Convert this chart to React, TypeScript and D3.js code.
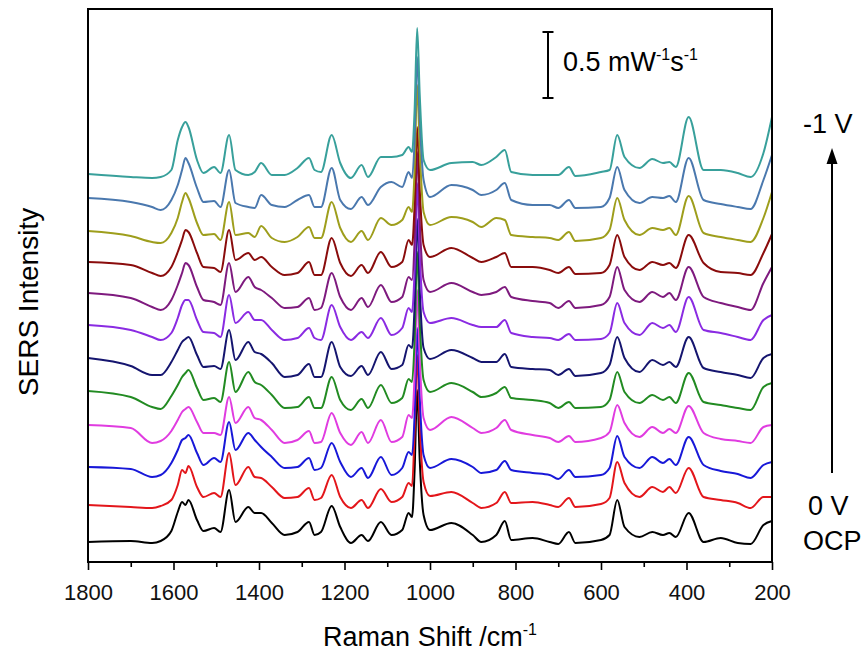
import React, { useRef, useEffect } from 'react';
import * as d3 from 'd3';

// sizes
const width = 866;
const height = 652;
const margin = { top: 9, right: 94, bottom: 90, left: 88 };

// Raman shift grid (cm-1) shared by every spectrum
const shifts = [1800, 1700, 1650, 1630, 1605, 1590, 1580, 1572, 1565, 1545,
  1530, 1505, 1490, 1470, 1455, 1425, 1410, 1395, 1370, 1340,
  1310, 1283, 1270, 1255, 1230, 1210, 1185, 1160, 1145, 1115,
  1090, 1065, 1050, 1042, 1036, 1030, 1024, 1015, 1000, 950,
  900, 880, 845, 825, 810, 760, 720, 700, 675, 660,
  600, 580, 562, 545, 510, 480, 455, 440, 425, 395,
  360, 320, 280, 250, 220, 200];

// stacked SERS intensities (a.u., 66 a.u. = 0.5 mW-1 s-1), OCP at the bottom
const specOCP = [20, 21, 19, 21, 31, 50, 60, 57, 62, 42,
  31, 34, 30, 72, 40, 55, 49, 49, 39, 27,
  30, 40, 27, 30, 56, 35, 19, 27, 21, 40,
  27, 32, 49, 45, 92, 172, 102, 47, 32, 39,
  27, 20, 27, 41, 22, 24, 20, 18, 30, 19,
  22, 27, 62, 35, 25, 30, 27, 29, 25, 49,
  20, 24, 19, 18, 37, 41];
const spec02 = [57, 55, 54, 56, 62, 77, 92, 89, 96, 75,
  65, 69, 65, 109, 77, 95, 85, 84, 75, 64,
  65, 74, 62, 64, 87, 65, 54, 62, 54, 73,
  60, 65, 79, 76, 130, 207, 137, 80, 66, 70,
  59, 54, 59, 70, 59, 60, 57, 55, 64, 55,
  58, 64, 100, 79, 65, 75, 70, 75, 69, 94,
  65, 62, 59, 54, 65, 65];
const spec03 = [95, 93, 85, 87, 99, 112, 122, 124, 127, 109,
  97, 104, 100, 140, 112, 129, 122, 115, 105, 94,
  95, 104, 92, 94, 119, 100, 85, 94, 84, 105,
  87, 94, 110, 107, 147, 234, 164, 107, 94, 103,
  95, 89, 92, 101, 92, 89, 87, 83, 92, 85,
  87, 94, 126, 105, 94, 105, 99, 103, 97, 125,
  97, 91, 88, 84, 97, 100];
const spec04 = [137, 134, 119, 121, 131, 142, 150, 153, 155, 140,
  129, 129, 127, 165, 139, 155, 144, 142, 132, 119,
  122, 131, 119, 120, 149, 129, 117, 130, 119, 142,
  120, 125, 147, 144, 187, 272, 202, 144, 132, 145,
  134, 129, 134, 142, 132, 127, 124, 120, 126, 120,
  124, 130, 157, 139, 125, 135, 129, 133, 129, 156,
  129, 123, 121, 119, 135, 137];
const spec05 = [171, 165, 155, 153, 166, 177, 185, 189, 192, 174,
  162, 164, 160, 200, 170, 190, 180, 177, 167, 154,
  155, 165, 154, 154, 185, 162, 152, 163, 154, 177,
  159, 164, 183, 180, 222, 310, 240, 182, 170, 179,
  170, 165, 169, 175, 164, 162, 159, 154, 160, 154,
  155, 162, 190, 170, 159, 167, 162, 165, 159, 189,
  160, 157, 154, 152, 175, 179];
const spec06 = [204, 196, 187, 187, 200, 212, 220, 223, 225, 207,
  195, 196, 193, 232, 202, 220, 210, 208, 199, 185,
  187, 198, 185, 185, 220, 195, 186, 196, 187, 210,
  193, 197, 217, 214, 257, 343, 272, 214, 203, 212,
  204, 200, 200, 208, 195, 193, 192, 187, 193, 186,
  189, 197, 225, 204, 190, 202, 197, 200, 195, 225,
  194, 190, 187, 184, 204, 208];
const spec07 = [237, 232, 225, 222, 229, 244, 257, 262, 262, 242,
  230, 229, 225, 267, 239, 250, 242, 242, 232, 222,
  224, 234, 224, 222, 257, 235, 222, 230, 224, 244,
  227, 234, 254, 250, 292, 379, 307, 250, 239, 244,
  237, 235, 235, 242, 229, 225, 224, 222, 228, 222,
  223, 229, 259, 239, 227, 239, 234, 237, 230, 265,
  232, 229, 225, 222, 242, 247];
const spec08 = [269, 264, 255, 252, 262, 277, 289, 299, 297, 275,
  262, 260, 257, 299, 270, 285, 275, 272, 264, 254,
  255, 264, 252, 254, 289, 265, 252, 264, 255, 277,
  260, 265, 285, 282, 322, 410, 340, 282, 270, 279,
  270, 267, 270, 275, 265, 261, 259, 254, 261, 254,
  257, 265, 295, 272, 260, 270, 265, 269, 262, 295,
  265, 259, 255, 252, 279, 295];
const spec09 = [300, 297, 289, 286, 295, 310, 322, 332, 330, 309,
  295, 294, 290, 332, 302, 309, 302, 305, 295, 287,
  289, 300, 287, 287, 324, 299, 286, 297, 289, 310,
  295, 300, 322, 317, 357, 435, 372, 317, 305, 314,
  304, 300, 305, 309, 295, 295, 292, 289, 295, 288,
  289, 297, 327, 305, 292, 300, 297, 299, 294, 327,
  299, 290, 289, 287, 309, 328];
const spec10 = [331, 326, 320, 319, 329, 344, 360, 369, 364, 339,
  327, 328, 322, 360, 327, 329, 325, 336, 324, 320,
  325, 335, 324, 324, 360, 334, 320, 331, 322, 344,
  337, 342, 355, 350, 392, 477, 412, 350, 337, 345,
  340, 335, 344, 342, 327, 325, 324, 322, 330, 321,
  324, 332, 364, 342, 327, 334, 332, 334, 327, 366,
  329, 325, 322, 320, 344, 370];
const spec11 = [364, 360, 355, 352, 362, 377, 392, 404, 399, 374,
  360, 361, 355, 392, 359, 355, 354, 367, 357, 355,
  362, 367, 355, 355, 394, 362, 353, 365, 357, 375,
  380, 375, 390, 384, 422, 505, 442, 382, 365, 377,
  372, 367, 372, 379, 362, 357, 357, 354, 362, 354,
  355, 364, 395, 372, 359, 365, 364, 366, 360, 404,
  362, 358, 355, 353, 382, 407];
const specM1V = [388, 385, 384, 385, 392, 422, 435, 440, 435, 402,
  389, 395, 389, 427, 392, 387, 390, 399, 387, 387,
  394, 404, 392, 390, 427, 399, 384, 397, 385, 405,
  405, 407, 415, 410, 452, 534, 467, 402, 392, 399,
  400, 397, 405, 412, 390, 387, 387, 387, 395, 386,
  390, 392, 427, 405, 394, 403, 399, 400, 395, 445,
  392, 392, 389, 385, 409, 445];

const spectra = [specOCP, spec02, spec03, spec04, spec05, spec06,
  spec07, spec08, spec09, spec10, spec11, specM1V];
const lineColors = ['#000000', '#E3161B', '#1818D8', '#E03CE0', '#228B22', '#15156F',
  '#8A2BE2', '#7E1A7E', '#8A0C0C', '#9E9E1C', '#4A78AE', '#38A09B'];

const xTicks = [1800, 1600, 1400, 1200, 1000, 800, 600, 400, 200];
const xMinorTicks = [1700, 1500, 1300, 1100, 900, 700, 500, 300];

// scale bar: 66 a.u. = 0.5 mW-1 s-1, drawn at 724 cm-1
const scaleBar = { shift: 724, from: 464, length: 66 };

const font = 'Liberation Sans, Arial, sans-serif';

export default function App() {
  const svgRef = useRef<SVGSVGElement>(null);

  useEffect(() => {
    if (!svgRef.current) return;
    const svg = d3.select(svgRef.current);
    svg.selectAll('*').remove();

    const x = d3.scaleLinear().domain([1800, 200]).range([margin.left, width - margin.right]);
    const y = d3.scaleLinear().domain([0, 553]).range([height - margin.bottom, margin.top]);

    const line = d3.line<[number, number]>()
      .x(d => x(d[0]))
      .y(d => y(d[1]))
      .curve(d3.curveMonotoneX);

    // spectra, OCP first so -1 V ends on top
    spectra.forEach((s, i) => {
      svg.append('path')
        .datum(shifts.map((w, j) => [w, s[j]] as [number, number]))
        .attr('d', line)
        .attr('fill', 'none')
        .attr('stroke', lineColors[i])
        .attr('stroke-width', 2)
        .attr('stroke-linejoin', 'round');
    });

    // frame
    svg.append('rect')
      .attr('x', margin.left)
      .attr('y', margin.top)
      .attr('width', width - margin.left - margin.right)
      .attr('height', height - margin.top - margin.bottom)
      .attr('fill', 'none')
      .attr('stroke', '#000')
      .attr('stroke-width', 2);

    // x axis
    const gx = svg.append('g')
      .attr('transform', `translate(0,${height - margin.bottom})`)
      .call(d3.axisBottom(x).tickValues(xTicks).tickSize(8).tickPadding(14).tickFormat(d3.format('d')));
    gx.select('.domain').remove();
    gx.selectAll('line').attr('stroke-width', 1.6);
    gx.selectAll('text').attr('font-size', 22).attr('font-family', font).attr('fill', '#111');

    const gm = svg.append('g')
      .attr('transform', `translate(0,${height - margin.bottom})`)
      .call(d3.axisBottom(x).tickValues(xMinorTicks).tickSize(5).tickFormat(() => ''));
    gm.select('.domain').remove();
    gm.selectAll('line').attr('stroke-width', 1.6);

    // axis titles
    const xt = svg.append('text')
      .attr('x', x(1000))
      .attr('y', 646)
      .attr('text-anchor', 'middle')
      .attr('font-family', font)
      .attr('font-size', 27);
    xt.append('tspan').text('Raman Shift /cm');
    xt.append('tspan').attr('dy', -11).attr('font-size', 16).text('-1');

    svg.append('text')
      .attr('transform', 'translate(38,302) rotate(-90)')
      .attr('text-anchor', 'middle')
      .attr('font-family', font)
      .attr('font-size', 28)
      .text('SERS Intensity');

    // scale bar
    const bx = x(scaleBar.shift);
    const b0 = y(scaleBar.from);
    const b1 = y(scaleBar.from + scaleBar.length);
    const bar = svg.append('g').attr('stroke', '#000').attr('stroke-width', 2);
    bar.append('line').attr('x1', bx).attr('x2', bx).attr('y1', b0).attr('y2', b1);
    bar.append('line').attr('x1', bx - 5.5).attr('x2', bx + 5.5).attr('y1', b0).attr('y2', b0);
    bar.append('line').attr('x1', bx - 5.5).attr('x2', bx + 5.5).attr('y1', b1).attr('y2', b1);

    const st = svg.append('text')
      .attr('x', bx + 15)
      .attr('y', 71)
      .attr('font-family', font)
      .attr('font-size', 27);
    st.append('tspan').text('0.5 mW');
    st.append('tspan').attr('dy', -11).attr('font-size', 16).text('-1');
    st.append('tspan').attr('dy', 11).text('s');
    st.append('tspan').attr('dy', -11).attr('font-size', 16).text('-1');

    // potential arrow
    const ax = 832;
    svg.append('line')
      .attr('x1', ax).attr('x2', ax)
      .attr('y1', 473).attr('y2', 160)
      .attr('stroke', '#000').attr('stroke-width', 2);
    svg.append('path')
      .attr('d', `M${ax},148 L${ax - 5.5},164 L${ax + 5.5},164 Z`)
      .attr('fill', '#000');

    const labels: [string, number, number][] = [['-1 V', 803, 133], ['0 V', 808, 515], ['OCP', 803, 550]];
    labels.forEach(([t, lx, ly]) => {
      svg.append('text')
        .attr('x', lx)
        .attr('y', ly)
        .attr('font-family', font)
        .attr('font-size', 27)
        .text(t);
    });
  }, []);

  return (
    <svg
      ref={svgRef}
      width={width}
      height={height}
      style={{ position: 'absolute', left: 0, top: 0, background: '#fff' }}
    />
  );
}
